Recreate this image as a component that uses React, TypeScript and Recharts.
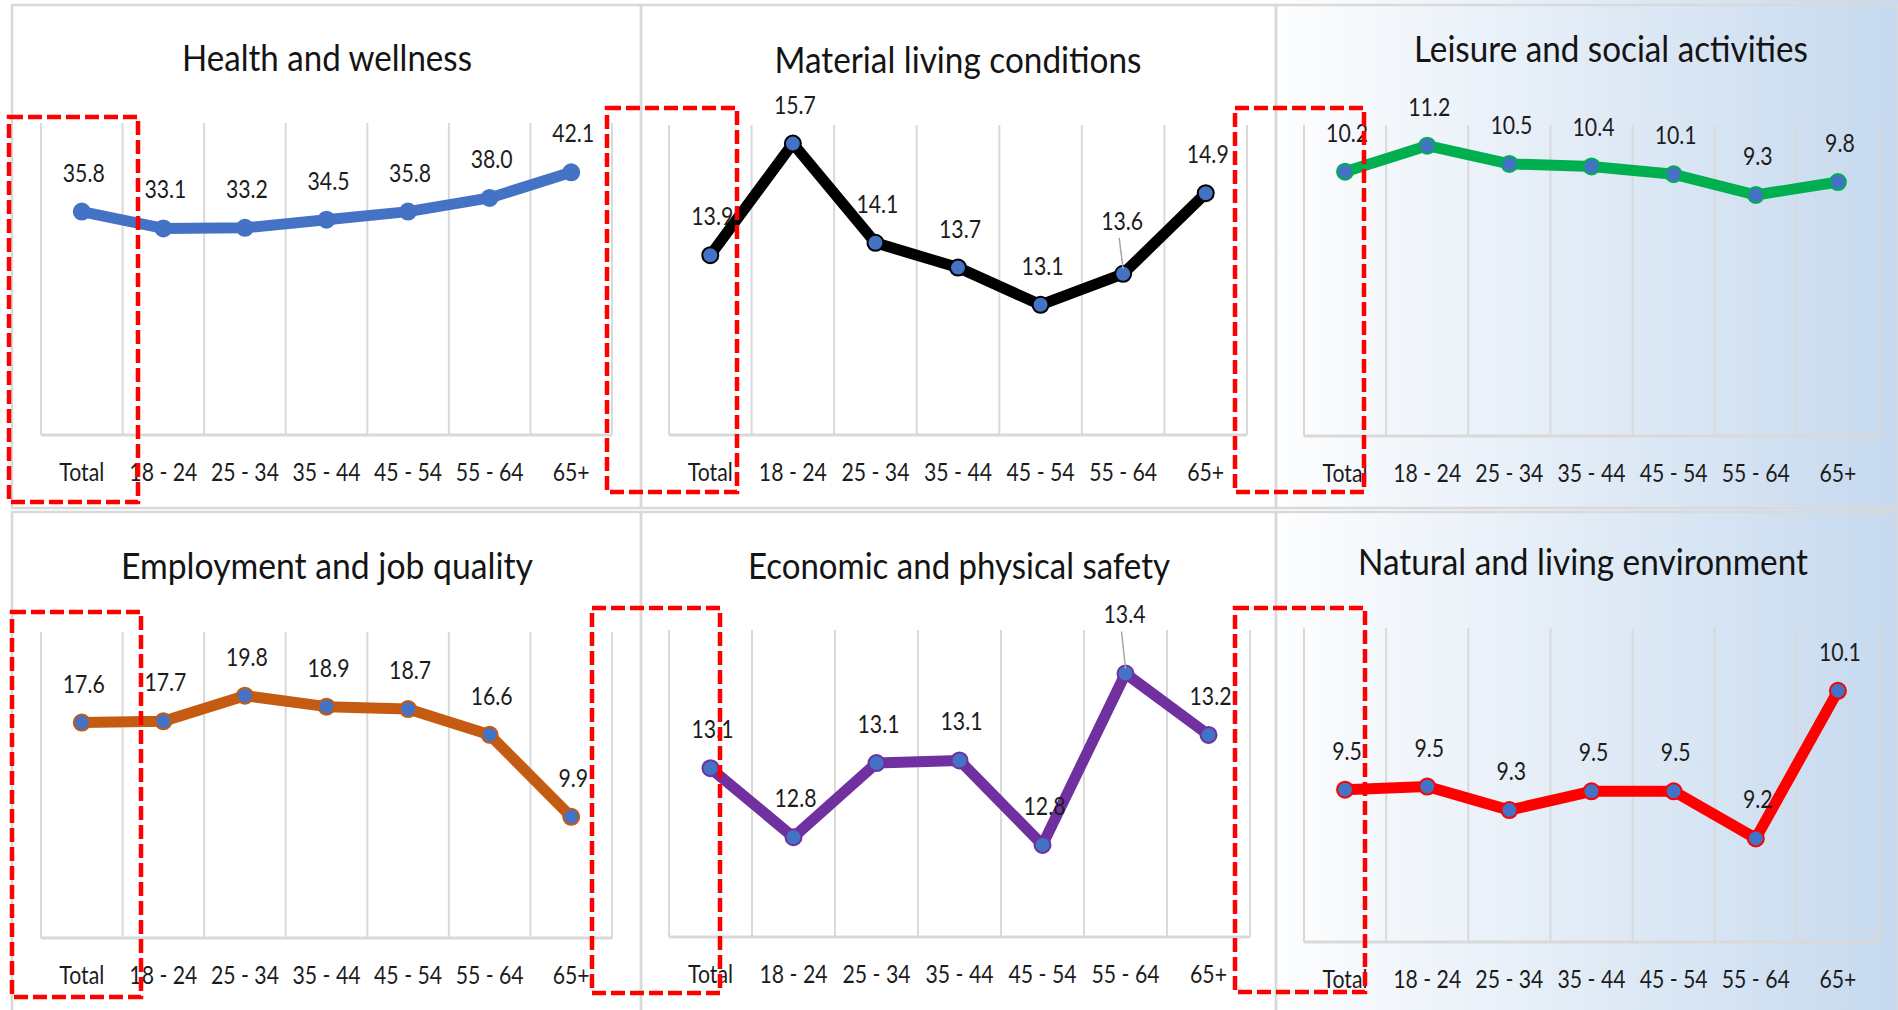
import React from "react";
import { LineChart, Line, XAxis, YAxis, CartesianGrid, LabelList } from "recharts";

// age groups shared by all six panels
const categories = ["Total", "18 - 24", "25 - 34", "35 - 44", "45 - 54", "55 - 64", "65+"];

const healthValues = [35.8, 33.1, 33.2, 34.5, 35.8, 38.0, 42.1];
const materialValues = [13.9, 15.7, 14.1, 13.7, 13.1, 13.6, 14.9];
const leisureValues = [10.2, 11.2, 10.5, 10.4, 10.1, 9.3, 9.8];
const employmentValues = [17.6, 17.7, 19.8, 18.9, 18.7, 16.6, 9.9];
const safetyValues = [13.06, 12.79, 13.08, 13.09, 12.76, 13.43, 13.19];
const environmentValues = [9.47, 9.49, 9.34, 9.46, 9.46, 9.16, 10.1];

const FONT = "Lato, 'Open Sans', sans-serif";
const TEXT = "#1c1c1c";
const GRID = "#d9d9d9";
const MARKER = "#4472C4";
const SQUISH = 0.85;
const AXIS_H = 50;

type Panel = {
  title: string;
  values: number[];
  domain: [number, number];
  color: string;
  box: { x: number; y: number; w: number; h: number };
  margin: { top: number; right: number; bottom: number; left: number };
  titleX: number;
  titleY: number;
  titleLen: number;
  fill: string;
  lift: Record<number, number>;
};

const panels: Panel[] = [
  {
    title: "Health and wellness",
    values: healthValues,
    domain: [0, 50],
    color: "#4472C4",
    box: { x: 12, y: 4, w: 629, h: 503 },
    margin: { top: 119, right: 29, bottom: 22, left: 29 },
    titleX: 327, titleY: 71, titleLen: 290,
    fill: "#ffffff",
    lift: {},
  },
  {
    title: "Material living conditions",
    values: materialValues,
    domain: [11, 16],
    color: "#000000",
    box: { x: 641, y: 4, w: 635, h: 503 },
    margin: { top: 121, right: 29, bottom: 22, left: 28 },
    titleX: 958, titleY: 73, titleLen: 367,
    fill: "#ffffff",
    lift: { 5: 14 },
  },
  {
    title: "Leisure and social activities",
    values: leisureValues,
    domain: [0, 12],
    color: "#00B050",
    box: { x: 1276, y: 4, w: 622, h: 503 },
    margin: { top: 121, right: 19, bottom: 21, left: 28 },
    titleX: 1611, titleY: 62, titleLen: 394,
    fill: "transparent",
    lift: {},
  },
  {
    title: "Employment and job quality",
    values: employmentValues,
    domain: [0, 25],
    color: "#C55A11",
    box: { x: 12, y: 511, w: 629, h: 499 },
    margin: { top: 121, right: 29, bottom: 22, left: 29 },
    titleX: 327, titleY: 579, titleLen: 412,
    fill: "#ffffff",
    lift: {},
  },
  {
    title: "Economic and physical safety",
    values: safetyValues,
    domain: [12.4, 13.6],
    color: "#7030A0",
    box: { x: 641, y: 511, w: 635, h: 499 },
    margin: { top: 119, right: 26, bottom: 23, left: 28 },
    titleX: 959, titleY: 579, titleLen: 422,
    fill: "#ffffff",
    lift: { 5: 20 },
  },
  {
    title: "Natural and living environment",
    values: environmentValues,
    domain: [8.5, 10.5],
    color: "#FF0000",
    box: { x: 1276, y: 511, w: 622, h: 499 },
    margin: { top: 117, right: 19, bottom: 18, left: 28 },
    titleX: 1583, titleY: 575, titleLen: 450,
    fill: "transparent",
    lift: {},
  },
];

// hand-drawn highlight boxes around the "Total" column
const highlightBoxes = [
  [9, 117, 138, 502],
  [607, 108, 737, 492],
  [1235, 108, 1364, 492],
  [12, 612, 141, 997],
  [592, 608, 720, 993],
  [1235, 608, 1365, 992],
];

function SquishText({ x, y, text }: { x: number; y: number; text: string }) {
  return (
    <text
      transform={`translate(${x} ${y}) scale(${SQUISH} 1)`}
      textAnchor="middle"
      fontSize={25}
      fontFamily={FONT}
      fill={TEXT}
    >
      {text}
    </text>
  );
}

function CategoryTick(props: any) {
  const { x, y, payload } = props;
  return <SquishText x={x} y={y + 46} text={payload.value} />;
}

const makeLabel = (color: string, lift: Record<number, number>) => (props: any) => {
  const x = props.x ?? props.viewBox?.x;
  const y = props.y ?? props.viewBox?.y;
  if (x == null || y == null) return null;
  const extra = lift[props.index] ?? 0;
  const base = y - 30 - extra;
  const lx = x + (extra ? -1 : 2);
  return (
    <g key={`lbl-${color}-${props.index}`}>
      {extra > 0 && (
        <line x1={lx - 3} y1={base + 8} x2={x} y2={y - 5} stroke="#a6a6a6" strokeWidth={1.5} />
      )}
      <SquishText x={lx} y={base} text={Number(props.value).toFixed(1)} />
    </g>
  );
};

const bandEdges = (n: number) => ({ offset }: any) =>
  Array.from({ length: n + 1 }, (_, i) => offset.left + (offset.width * i) / n);

function PanelChart({ panel }: { panel: Panel }) {
  const data = categories.map((category, i) => ({ category, value: panel.values[i] }));
  const plotWidth = panel.box.w - panel.margin.left - panel.margin.right;
  const pad = plotWidth / (2 * categories.length);
  return (
    <div
      style={{
        position: "absolute",
        left: panel.box.x,
        top: panel.box.y,
        width: panel.box.w,
        height: panel.box.h,
        background: panel.fill,
      }}
    >
      <LineChart width={panel.box.w} height={panel.box.h} data={data} margin={panel.margin}>
        <CartesianGrid
          horizontal={false}
          stroke={GRID}
          strokeWidth={2}
          verticalCoordinatesGenerator={bandEdges(categories.length)}
        />
        <XAxis
          dataKey="category"
          interval={0}
          height={AXIS_H}
          padding={{ left: pad, right: pad }}
          axisLine={{ stroke: GRID, strokeWidth: 3 }}
          tickLine={false}
          tickSize={0}
          tickMargin={0}
          tick={(p: any) => <CategoryTick {...p} />}
        />
        <YAxis hide type="number" domain={panel.domain} />
        <Line
          type="linear"
          dataKey="value"
          stroke={panel.color}
          strokeWidth={11}
          strokeLinejoin="round"
          strokeLinecap="round"
          isAnimationActive={false}
          activeDot={false}
          dot={(p: any) => (
            <circle
              key={`dot-${p.index}`}
              cx={p.cx}
              cy={p.cy}
              r={8}
              fill={MARKER}
              stroke={panel.color}
              strokeWidth={2}
            />
          )}
        >
          <LabelList dataKey="value" content={makeLabel(panel.color, panel.lift)} />
        </Line>
      </LineChart>
    </div>
  );
}

export default function App() {
  return (
    <div
      style={{
        position: "absolute",
        left: 0,
        top: 0,
        width: 1898,
        height: 1010,
        overflow: "hidden",
        background: "linear-gradient(90deg, #ffffff 0%, #ffffff 66%, #c6d9ee 100%)",
        fontFamily: FONT,
      }}
    >
      {panels.map((p) => (
        <PanelChart key={p.title} panel={p} />
      ))}
      <svg
        width={1898}
        height={1010}
        style={{ position: "absolute", left: 0, top: 0, pointerEvents: "none" }}
      >
        {panels.map((p) => (
          <rect
            key={`border-${p.title}`}
            x={p.box.x}
            y={p.box.y + 1}
            width={p.box.w}
            height={p.box.h + (p.box.y > 100 ? 4 : 0)}
            fill="none"
            stroke={GRID}
            strokeWidth={2.5}
          />
        ))}
        {panels.map((p) => (
          <text
            key={`title-${p.title}`}
            x={p.titleX}
            y={p.titleY}
            textAnchor="middle"
            fontSize={36}
            fontFamily={FONT}
            fill="#141414"
            textLength={p.titleLen}
            lengthAdjust="spacingAndGlyphs"
          >
            {p.title}
          </text>
        ))}
        {highlightBoxes.map(([x1, y1, x2, y2], i) => (
          <rect
            key={`hl-${i}`}
            x={x1}
            y={y1}
            width={x2 - x1}
            height={y2 - y1}
            fill="none"
            stroke="#ff0000"
            strokeWidth={4.5}
            strokeDasharray="14 5"
          />
        ))}
      </svg>
    </div>
  );
}
